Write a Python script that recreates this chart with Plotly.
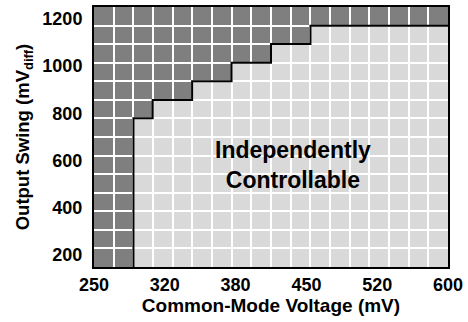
import plotly.graph_objects as go

# Data (mV)
x_range = [250, 600]
y_range = [150, 1250]
n_cols = 18
n_rows = 14
step_x = [289, 308, 347, 386, 425, 464]        # common-mode voltage where limit steps up
step_y = [779, 857, 936, 1014, 1093, 1171]     # max output swing after each step
x_tickvals = [250, 320, 390, 460, 530, 600]
x_ticktext = ["250", "320", "380", "450", "520", "600"]
y_tickvals = [200, 400, 600, 800, 1000, 1200]
label_text = "Independently<br>Controllable"
label_pos = (447, 580)

DARK = "#7f7f7f"
LIGHT = "#d9d9d9"
FONT = "Liberation Sans, Arial, sans-serif"

# boundary polyline (stair) from bottom to right edge
bx = [step_x[0]]
by = [y_range[0]]
for i, (sx, sy) in enumerate(zip(step_x, step_y)):
    bx += [sx, sx]
    prev = y_range[0] if i == 0 else step_y[i - 1]
    by += [prev, sy]
bx = bx[1:]
by = by[1:]
bx.append(x_range[1])
by.append(step_y[-1])

# dark region polygon
poly_x = bx + [x_range[1], x_range[0], x_range[0]]
poly_y = by + [y_range[1], y_range[1], y_range[0]]
path = "M " + " L ".join(f"{px},{py}" for px, py in zip(poly_x, poly_y)) + " Z"

fig = go.Figure()
fig.add_trace(go.Scatter(x=bx, y=by, mode="lines",
                         line=dict(color="black", width=2),
                         hoverinfo="skip", showlegend=False))

fig.add_shape(type="path", path=path, xref="x", yref="y",
              fillcolor=DARK, line=dict(width=0), layer="below")

fig.add_annotation(x=label_pos[0], y=label_pos[1], text=label_text,
                   showarrow=False, xref="x", yref="y",
                   font=dict(family=FONT, size=23, color="black", weight=700))

fig.update_layout(
    width=468, height=322,
    margin=dict(l=94, r=17, t=5, b=55),
    paper_bgcolor="white", plot_bgcolor=LIGHT,
    font=dict(family=FONT, color="black", weight=700),
    showlegend=False,
)
fig.update_xaxes(
    range=x_range, tickvals=x_tickvals, ticktext=x_ticktext,
    showgrid=False, zeroline=False, ticks="",
    showline=True, mirror=True, linecolor="black", linewidth=2,
    tickfont=dict(size=18, family=FONT, weight=700),
    minor=dict(showgrid=True, tickmode="linear", tick0=x_range[0],
               dtick=(x_range[1] - x_range[0]) / n_cols,
               gridcolor="white", gridwidth=1.5, ticks=""),
    title=dict(text="Common-Mode Voltage (mV)", standoff=4,
               font=dict(size=19, family=FONT, weight=700)),
    layer="above traces",
)
fig.update_yaxes(
    range=y_range, tickvals=y_tickvals,
    showgrid=False, zeroline=False, ticks="",
    showline=True, mirror=True, linecolor="black", linewidth=2,
    tickfont=dict(size=18, family=FONT, weight=700),
    ticklabelstandoff=6,
    minor=dict(showgrid=True, tickmode="linear", tick0=y_range[0],
               dtick=(y_range[1] - y_range[0]) / n_rows,
               gridcolor="white", gridwidth=1.5, ticks=""),
    title=dict(text="Output Swing (mV<sub>diff</sub>)", standoff=8,
               font=dict(size=18.5, family=FONT, weight=700)),
    layer="above traces",
)

fig.write_html("out.html")
